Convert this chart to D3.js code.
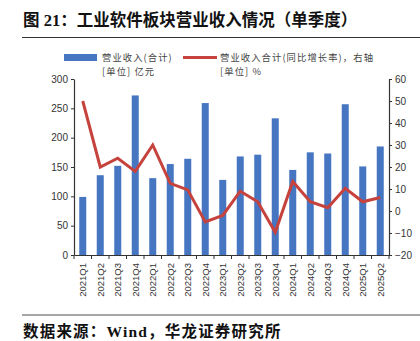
<!DOCTYPE html>
<html><head><meta charset="utf-8">
<script src="https://cdn.jsdelivr.net/npm/d3@7/dist/d3.min.js"></script>
<style>
body{margin:0;background:#fff;}
svg{display:block;}
</style></head>
<body><svg id="c" width="420" height="341"></svg>
<script>
const categories = ["2021Q1","2021Q2","2021Q3","2021Q4","2022Q1","2022Q2","2022Q3","2022Q4","2023Q1","2023Q2","2023Q3","2023Q4","2024Q1","2024Q2","2024Q3","2024Q4","2025Q1","2025Q2"];
const revenue = [99,136,152,272,131,155,164,259,128,168,171,233,145,175,173,257,151,185];
const growth = [50,20,24,18,30,12.6,9.6,-5,-2,9,4.2,-9.7,13.4,4.2,1.5,10.3,4.2,6.1];
const leftTicks = [0,50,100,150,200,250,300];
const rightTicks = [-20,-10,0,10,20,30,40,50,60];
const titleText = "图 21：工业软件板块营业收入情况（单季度）";
const sourceText = "数据来源：Wind，华龙证券研究所";
const legend1 = ["营业收入(合计)","[单位] 亿元"];
const legend2 = ["营业收入合计(同比增长率)，右轴","[单位] %"];

const svg = d3.select("#c");
const m = {l:74, r:31, t:79, b:86};
const W = 420, H = 341;
const x = d3.scaleBand().domain(categories).range([m.l, W-m.r]).paddingInner(0.6).paddingOuter(0.3);
const yL = d3.scaleLinear().domain([0,300]).range([H-m.b, m.t]);
const yR = d3.scaleLinear().domain([-20,60]).range([H-m.b, m.t]);
const BLUE = "#4676c2", RED = "#c5423d";
const cjk = "'Noto Sans CJK SC', 'Noto Sans', sans-serif";
const serif = "'Liberation Serif','Noto Sans CJK SC', serif";

// title
svg.append("text").attr("x",23).attr("y",26).attr("font-family",serif).attr("font-weight","bold")
  .attr("font-size",16.5).attr("fill","#111").text(titleText);
svg.append("line").attr("x1",22).attr("x2",420).attr("y1",37.5).attr("y2",37.5).attr("stroke","#333").attr("stroke-width",1);

// legend
svg.append("rect").attr("x",64).attr("y",54).attr("width",33).attr("height",7).attr("fill",BLUE);
svg.append("line").attr("x1",183).attr("x2",217).attr("y1",57.5).attr("y2",57.5).attr("stroke",RED).attr("stroke-width",3);
const lg = svg.append("g").attr("font-family",cjk).attr("font-size",9.3).attr("fill","#444");
lg.append("text").attr("x",102).attr("y",60.5).attr("letter-spacing",1.1).text(legend1[0]);
lg.append("text").attr("x",102).attr("y",74.5).attr("letter-spacing",1.1).text(legend1[1]);
lg.append("text").attr("x",220).attr("y",60.5).attr("letter-spacing",1.1).text(legend2[0]);
lg.append("text").attr("x",220).attr("y",74.5).attr("letter-spacing",1.1).text(legend2[1]);

// bars
svg.append("g").selectAll("rect").data(revenue).join("rect")
  .attr("x",(d,i)=>x(categories[i])).attr("width",x.bandwidth())
  .attr("y",d=>yL(d)).attr("height",d=>yL(0)-yL(d)).attr("fill",BLUE);

// line
const line = d3.line().x((d,i)=>x(categories[i])+x.bandwidth()/2).y(d=>yR(d));
svg.append("path").datum(growth).attr("d",line).attr("fill","none").attr("stroke",RED)
  .attr("stroke-width",3).attr("stroke-linejoin","miter");

// axes
const fontAx = "'Liberation Sans', Arial, sans-serif";
const gL = svg.append("g").attr("transform",`translate(${m.l},0)`)
  .call(d3.axisLeft(yL).tickValues(leftTicks).tickSize(3).tickSizeOuter(0).tickPadding(3));
const gR = svg.append("g").attr("transform",`translate(${W-m.r},0)`)
  .call(d3.axisRight(yR).tickValues(rightTicks).tickSize(3).tickSizeOuter(0).tickPadding(3).tickFormat(d=>d<0?"\u2212"+Math.abs(d):d));
[gL,gR].forEach(g=>{
  g.select(".domain").attr("stroke","#333").attr("stroke-width",1.2);
  g.selectAll(".tick line").attr("stroke","#333");
  g.selectAll("text").attr("font-family",fontAx).attr("font-size",10).attr("fill","#333");
});
const gX = svg.append("g").attr("transform",`translate(0,${H-m.b})`)
  .call(d3.axisBottom(x).tickSize(0).tickSizeOuter(0));
gX.select(".domain").attr("stroke","#333").attr("stroke-width",1.2);
gX.selectAll(".tick text").attr("font-family",fontAx).attr("font-size",9.5).attr("fill","#333")
  .attr("text-anchor","end").attr("dy","0.35em")
  .attr("transform","translate(0,8) rotate(-90)").attr("x",0).attr("y",0);
// boundary ticks
const step = x.step();
const bounds = categories.map(c=>x(c)+x.bandwidth()/2 - step/2).concat([x(categories[categories.length-1])+x.bandwidth()/2+step/2]);
gX.append("g").selectAll("line").data(bounds).join("line")
  .attr("x1",d=>d).attr("x2",d=>d).attr("y1",0).attr("y2",4).attr("stroke","#333");

// footer
svg.append("line").attr("x1",22).attr("x2",420).attr("y1",315).attr("y2",315).attr("stroke","#888").attr("stroke-width",1.5);
svg.append("text").attr("x",23).attr("y",337).attr("font-family",serif).attr("font-weight","bold")
  .attr("font-size",15.5).attr("letter-spacing",1.2).attr("fill","#111").text(sourceText);
</script></body></html>
